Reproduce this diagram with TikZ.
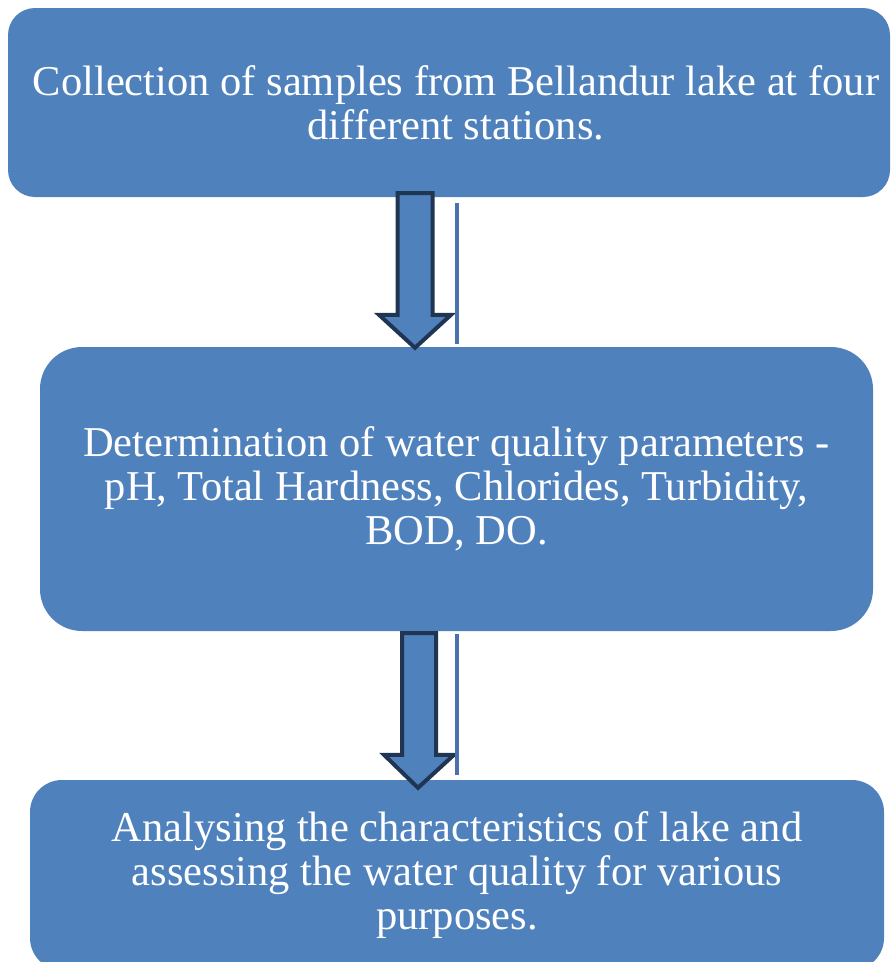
\documentclass[tikz,border=0pt]{standalone}
\usepackage{fontspec}
\setmainfont{Liberation Serif}
\usetikzlibrary{positioning,calc}
\definecolor{mycolor}{HTML}{4F81BD}
\definecolor{mycolor2}{HTML}{1F3552}
\definecolor{mycolor3}{HTML}{4A71AB}

\tikzset{
    stagebox/.style={fill=mycolor, text=white, align=center, inner sep=0pt,
        font=\fontsize{42.5}{44}\selectfont},
    blockarrow/.style={fill=mycolor, draw=mycolor2, line width=4pt, line join=miter},
    sideline/.style={draw=mycolor3, line width=4pt}
}

\begin{document}
\begin{tikzpicture}[x=1pt, y=-1pt]
    \useasboundingbox (0,0) rectangle (891,962);

% Stages
    % Collection
    \node[stagebox, rounded corners=27pt, minimum width=882pt, minimum height=189pt]
        (collect) at (449,102.5)
        {\hspace*{14pt}Collection of samples from Bellandur lake at four\\\hspace*{14pt}different stations.};
    % Determination
    \node[stagebox, rounded corners=42pt, minimum width=833pt, minimum height=284pt]
        (determine) at (456.5,489)
        {Determination of water quality parameters -\\pH, Total Hardness, Chlorides, Turbidity,\\BOD, DO.};
    % Analysis
    \node[stagebox, rounded corners=32pt, minimum width=854pt, minimum height=190pt]
        (analyse) at (457,875)
        {Analysing the characteristics of lake and\\assessing the water quality for various\\purposes.};

% Arrows between stages
    \coordinate (topA) at ($(collect.south)+(-34,-4)$);
    \coordinate (tipA) at ($(determine.north)+(-41.5,1)$);
    \coordinate (topB) at ($(determine.south)+(-37.5,2)$);
    \coordinate (tipB) at ($(analyse.north)+(-39,8)$);

    % Collection -> Determination
    \draw[blockarrow] let \p1=(topA), \p2=(tipA) in
        (\x1-17.5pt,\y1) -- (\x1+17.5pt,\y1) -- (\x1+17.5pt,\y2+33pt) -- (\x1+36pt,\y2+33pt)
        -- (\x2,\y2) -- (\x1-36pt,\y2+33pt) -- (\x1-17.5pt,\y2+33pt) -- cycle;
    % Determination -> Analysis
    \draw[blockarrow] let \p1=(topB), \p2=(tipB) in
        (\x1-17pt,\y1) -- (\x1+17pt,\y1) -- (\x1+17pt,\y2+33pt) -- (\x1+35pt,\y2+33pt)
        -- (\x2,\y2) -- (\x1-35pt,\y2+33pt) -- (\x1-17pt,\y2+33pt) -- cycle;

    % Side lines
    \coordinate (sideA1) at (457,203);
    \coordinate (sideA2) at (457,344);
    \coordinate (sideB1) at (457,634);
    \coordinate (sideB2) at (457,775);
    \draw[sideline] (sideA1) -- (sideA2);
    \draw[sideline] (sideB1) -- (sideB2);

\end{tikzpicture}
\end{document}
